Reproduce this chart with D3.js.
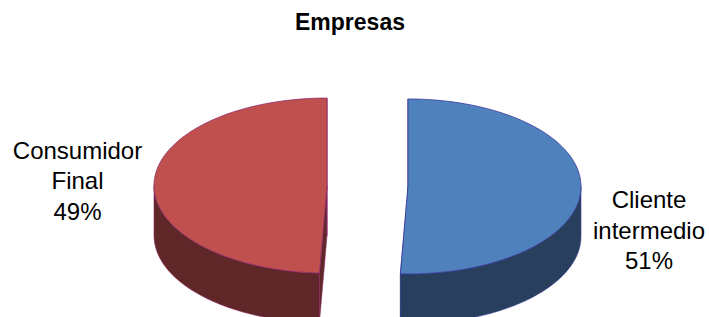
<!DOCTYPE html>
<html>
<head>
<meta charset="utf-8">
<script src="https://cdn.jsdelivr.net/npm/d3@7"></script>
<style>
  html, body { margin: 0; padding: 0; background: #fff; }
  svg { display: block; }
  text { font-family: "Liberation Sans", Arial, sans-serif; }
</style>
</head>
<body>
<svg id="chart" width="709" height="317"></svg>
<script>
// ---- data ----
const title = "Empresas";
const categories = ["Cliente intermedio", "Consumidor Final"];
const values = [50.7, 49.3];
const labelLines = [["Cliente", "intermedio"], ["Consumidor", "Final"]];
const topColors = ["#4F81BD", "#C0504D"];
const sideColors = ["#283F5E", "#5F2727"];
const strokeColors = ["#3A3A9C", "#8E2A6A"];

// ---- layout ----
const W = 709, H = 317;
const cx = 367.5, cy = 186;
const rx = 173, ry = 87.5, depth = 50, explode = 40.5;

const svg = d3.select("#chart");

const pie = d3.pie().sort(null).value(d => d.value).startAngle(0).endAngle(2 * Math.PI);
const data = categories.map((c, i) => ({ name: c, value: values[i], i }));
const arcs = pie(data);
const total = d3.sum(values);
const fmt = d3.format(".0%");

function pt(a, ox, oy, dz = 0) {
  return [ox + rx * Math.sin(a), oy - ry * Math.cos(a) + dz];
}
function sample(a0, a1, n) {
  return d3.range(n + 1).map(k => a0 + (a1 - a0) * k / n);
}

const line = d3.line();

arcs.forEach(d => {
  d.mid = (d.startAngle + d.endAngle) / 2;
  d.ox = cx + explode * Math.sin(d.mid);
  d.oy = cy - explode * Math.cos(d.mid) * (ry / rx);
});

const gSide = svg.append("g");
const gTop = svg.append("g");

arcs.forEach(d => {
  const i = d.data.i;
  const { ox, oy } = d;
  // radial walls
  [d.startAngle, d.endAngle].forEach(a => {
    const pts = [[ox, oy], pt(a, ox, oy), pt(a, ox, oy, depth), [ox, oy + depth]];
    gSide.append("path")
      .attr("d", line(pts) + "Z")
      .attr("fill", sideColors[i])
      .attr("stroke", strokeColors[i])
      .attr("stroke-width", 0.6);
  });
  // outer front wall
  const s = Math.max(d.startAngle, Math.PI / 2);
  const e = Math.min(d.endAngle, 3 * Math.PI / 2);
  if (e > s) {
    const as = sample(s, e, 80);
    const topPts = as.map(a => pt(a, ox, oy));
    const botPts = as.slice().reverse().map(a => pt(a, ox, oy, depth));
    gSide.append("path")
      .attr("d", line(topPts.concat(botPts)) + "Z")
      .attr("fill", sideColors[i])
      .attr("stroke", strokeColors[i])
      .attr("stroke-width", 0.6);
  }
  // top face
  const tpts = [[ox, oy]].concat(sample(d.startAngle, d.endAngle, 160).map(a => pt(a, ox, oy)));
  gTop.append("path")
    .attr("d", line(tpts) + "Z")
    .attr("fill", topColors[i])
    .attr("stroke", strokeColors[i])
    .attr("stroke-width", 0.8)
    .attr("stroke-linejoin", "round");
});

// title
svg.append("text")
  .attr("x", 350).attr("y", 30)
  .attr("text-anchor", "middle")
  .attr("font-size", 23).attr("font-weight", "bold")
  .attr("fill", "#000")
  .text(title);

// labels
const labelPos = [{ x: 649, y: 208 }, { x: 77.5, y: 158.5 }];
arcs.forEach(d => {
  const i = d.data.i;
  const lines = labelLines[i].concat([fmt(d.data.value / total)]);
  const t = svg.append("text")
    .attr("x", labelPos[i].x).attr("y", labelPos[i].y)
    .attr("text-anchor", "middle")
    .attr("font-size", 24)
    .attr("fill", "#000");
  lines.forEach((l, k) => {
    t.append("tspan")
      .attr("x", labelPos[i].x)
      .attr("dy", k === 0 ? 0 : 30.5)
      .text(l);
  });
});
</script>
</body>
</html>
